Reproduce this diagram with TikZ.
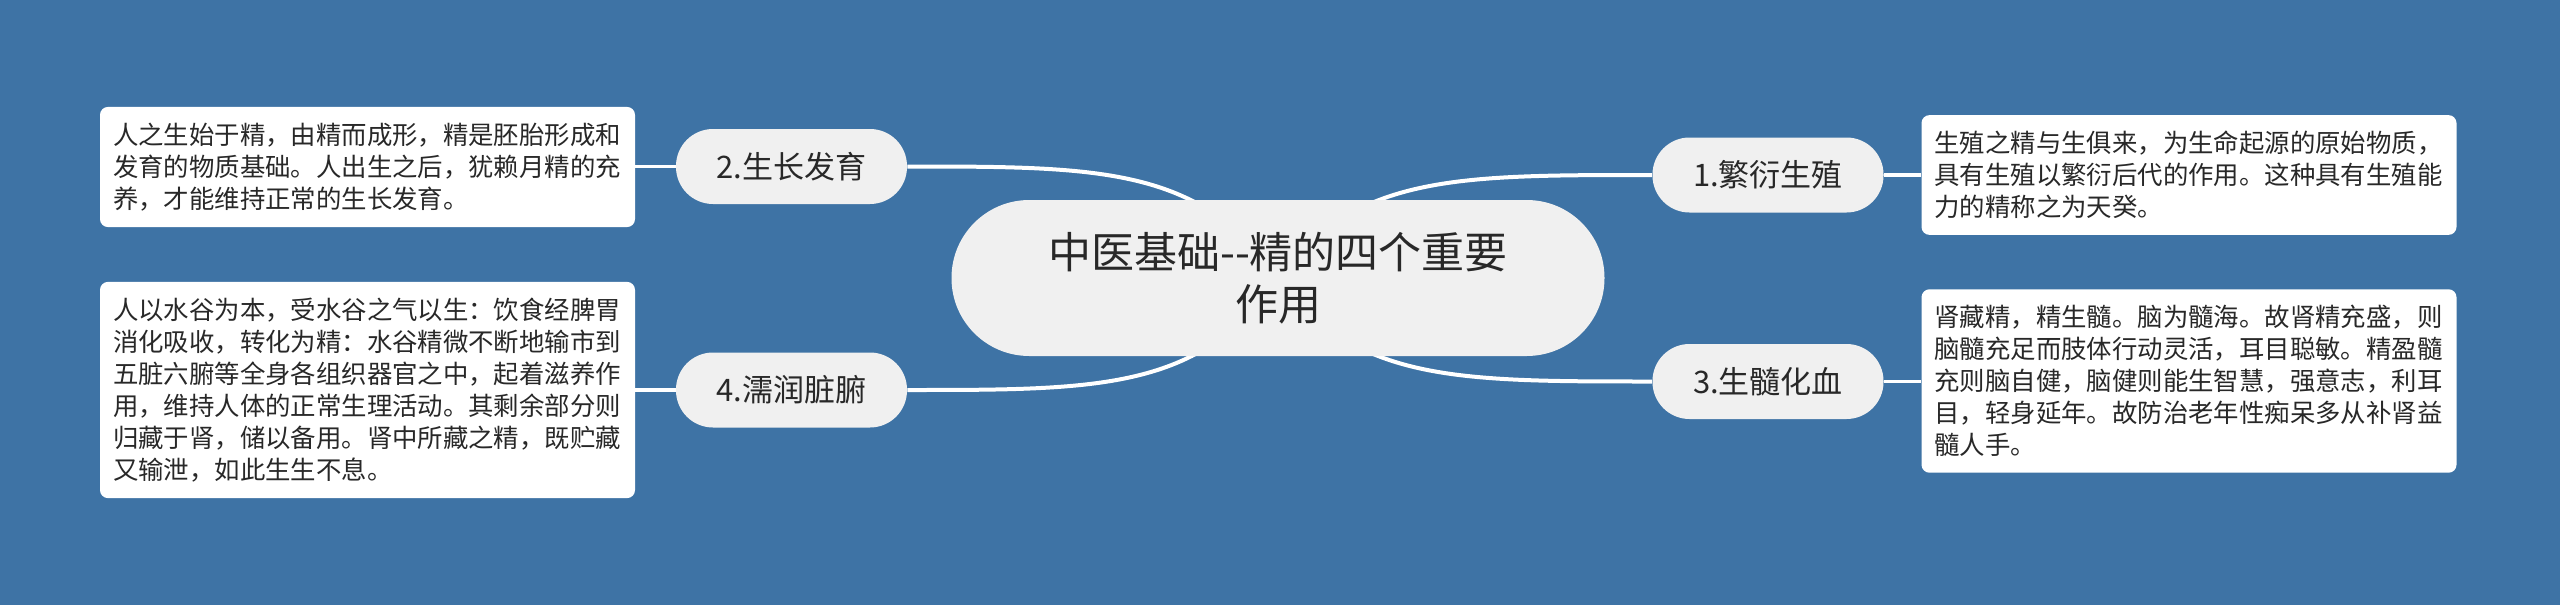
\documentclass[tikz,border=0pt]{standalone}
\usepackage{fontspec}
\newfontfamily\cjk{Noto Sans CJK SC}
\definecolor{bgblue}{RGB}{62,115,165}
\definecolor{nodegray}{RGB}{240,240,240}
\definecolor{txt}{RGB}{40,40,40}
\pgfdeclarelayer{bg}
\pgfsetlayers{bg,main}
\tikzset{
  rootnode/.style={fill=nodegray, rounded corners=38.9pt, minimum width=326.5pt, minimum height=78pt,
    align=center, font=\cjk\fontsize{21.5pt}{26pt}\selectfont, text=txt, inner sep=0pt},
  childnode/.style={fill=nodegray, rounded corners=18.5pt, minimum width=115.5pt, minimum height=37.5pt,
    font=\cjk\fontsize{15.5pt}{18pt}\selectfont, text=txt, inner sep=0pt},
  textbox/.style={fill=white, rounded corners=4pt, text width=254.5pt, align=left,
    inner xsep=6.5pt, inner ysep=8pt, font=\cjk\fontsize{12.7pt}{16pt}\selectfont, text=txt},
  link/.style={white, line width=2pt},
  leaflink/.style={white, line width=1.7pt}
}
\begin{document}
\begin{tikzpicture}[x=0.5pt, y=-0.5pt]
\useasboundingbox (0,0) rectangle (2560,605);
\begin{pgfonlayer}{bg}
  \fill[bgblue] (0,0) rectangle (2560,605);
\end{pgfonlayer}

\node[rootnode] (root) at (1278,278) {中医基础--精的四个重要\\作用};

\node[childnode] (n1) at (1768,175) {1.繁衍生殖};
\node[childnode] (n2) at (791.5,166.5) {2.生长发育};
\node[childnode] (n3) at (1768,381.5) {3.生髓化血};
\node[childnode] (n4) at (791.5,390) {4.濡润脏腑};

\node[textbox] (b2) at (367.5,167) {人之生始于精，由精而成形，精是胚胎形成和\\发育的物质基础。人出生之后，犹赖月精的充\\养，才能维持正常的生长发育。};
\node[textbox] (b4) at (367.5,390) {人以水谷为本，受水谷之气以生：饮食经脾胃\\消化吸收，转化为精：水谷精微不断地输市到\\五脏六腑等全身各组织器官之中，起着滋养作\\用，维持人体的正常生理活动。其剩余部分则\\归藏于肾，储以备用。肾中所藏之精，既贮藏\\又输泄，如此生生不息。};
\node[textbox] (b1) at (2189,175) {生殖之精与生俱来，为生命起源的原始物质，\\具有生殖以繁衍后代的作用。这种具有生殖能\\力的精称之为天癸。};
\node[textbox] (b3) at (2189,381) {肾藏精，精生髓。脑为髓海。故肾精充盛，则\\脑髓充足而肢体行动灵活，耳目聪敏。精盈髓\\充则脑自健，脑健则能生智慧，强意志，利耳\\目，轻身延年。故防治老年性痴呆多从补肾益\\髓人手。};

\begin{pgfonlayer}{bg}
  \draw[link] (root.center) .. controls +(-78,-111) and +(193,0) .. (n2.east);
  \draw[link] (root.center) .. controls +(-78,112) and +(193,0) .. (n4.east);
  \draw[link] (root.center) .. controls +(78,-103) and +(-197,0) .. (n1.west);
  \draw[link] (root.center) .. controls +(78,103.5) and +(-197,0) .. (n3.west);
  \draw[leaflink] (n2.west) -- (n2.west -| b2.east);
  \draw[leaflink] (n4.west) -- (n4.west -| b4.east);
  \draw[leaflink] (n1.east) -- (n1.east -| b1.west);
  \draw[leaflink] (n3.east) -- (n3.east -| b3.west);
\end{pgfonlayer}
\end{tikzpicture}
\end{document}
